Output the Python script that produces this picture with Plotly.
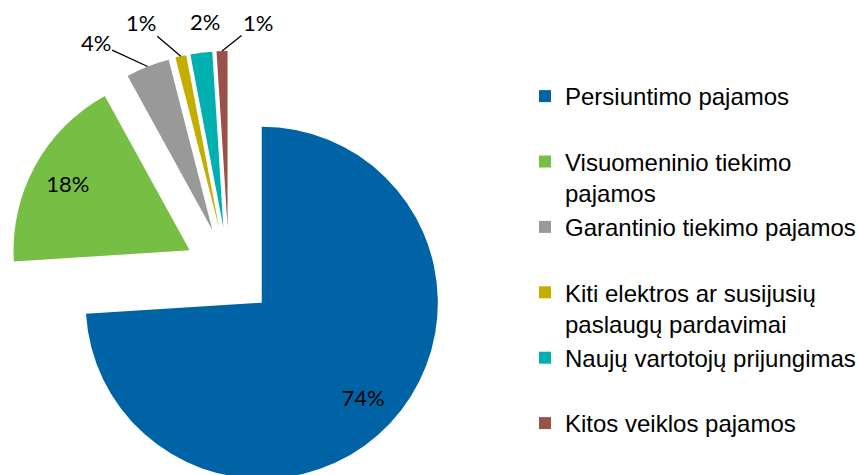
import math
import plotly.graph_objects as go

# ---------------- data ----------------
labels = [
    "Persiuntimo pajamos",
    "Visuomeninio tiekimo<br>pajamos",
    "Garantinio tiekimo pajamos",
    "Kiti elektros ar susijusių<br>paslaugų pardavimai",
    "Naujų vartotojų prijungimas",
    "Kitos veiklos pajamos",
]
values = [74, 18, 4, 1, 2, 1]
colors = ["#0063A6", "#77BE45", "#999999", "#C3AE00", "#00B0B0", "#9A5248"]

# ---------------- layout constants ----------------
W, H = 880, 495          # figure size; page is clipped to the 857x475 window
PULL = 0.255
BOX = 442                 # pie box (px)
CX, CY = 229, 272         # pie centre in px (from top-left)
dom_x = [(CX - BOX / 2) / W, (CX + BOX / 2) / W]
dom_y = [(H - CY - BOX / 2) / H, (H - CY + BOX / 2) / H]
TXT_FONT = dict(family="Lato", size=22, color="#000000")

# legend spacing: blank trailing line on single-line entries (Excel spreads entries)
legend_labels = [l if "<br>" in l else l + "<br> " for l in labels]
legend_labels[-1] = labels[-1]

common = dict(
    values=values, sort=False, direction="clockwise", rotation=0,
    pull=[PULL] * len(values), domain=dict(x=dom_x, y=dom_y),
)

# visible pie
pie = go.Pie(
    labels=legend_labels,
    marker=dict(colors=colors, line=dict(width=0)),
    textinfo="none",
    hoverinfo="label+percent",
    **common,
)

# transparent ring carrying the inside percentage labels (placed near the rim)
ring = go.Pie(
    labels=legend_labels,
    hole=0.58,
    marker=dict(colors=["rgba(0,0,0,0)"] * len(values), line=dict(width=0)),
    texttemplate="%{percent:.0%}",
    textposition=["inside", "inside", "none", "none", "none", "none"],
    insidetextorientation="horizontal",
    textfont=TXT_FONT,
    showlegend=False,
    hoverinfo="skip",
    **common,
)

fig = go.Figure([pie, ring])

# outside labels for the small slices, anchored on the slice rims
total = sum(values)
r = BOX / 2 / (1 + PULL)
R_out = r * (1 + PULL)
label_offsets = {2: (-52, -24), 3: (-40, -34), 4: (4, -31), 5: (36, -29)}
annotations = []
cum = 0
for i, v in enumerate(values):
    mid = (cum + v / 2) / total * 2 * math.pi
    cum += v
    if i not in label_offsets:
        continue
    px = CX + R_out * math.sin(mid)
    py = CY - R_out * math.cos(mid)
    ax, ay = label_offsets[i]
    annotations.append(dict(
        x=px / W, y=1 - py / H, xref="paper", yref="paper",
        text=f"{v / total * 100:.0f}%", font=TXT_FONT,
        showarrow=True, ax=ax, ay=ay, arrowhead=0, arrowwidth=1.3,
        arrowcolor="#000000" if i != 4 else "rgba(0,0,0,0)",
    ))

fig.update_layout(
    width=W, height=H,
    margin=dict(l=0, r=0, t=0, b=0),
    paper_bgcolor="white",
    plot_bgcolor="white",
    showlegend=True,
    annotations=annotations,
    legend=dict(
        x=525 / W, y=1 - 74 / H, xanchor="left", yanchor="top",
        font=dict(family="Liberation Sans", size=24, color="#000000"),
        valign="top",
        itemwidth=30,
    ),
)

fig.write_html(
    "out.html",
    config={"displayModeBar": False},
    post_script=(
        "document.body.style.margin='0';"
        "document.documentElement.style.overflow='hidden';"
        "document.body.style.overflow='hidden';"
    ),
)
